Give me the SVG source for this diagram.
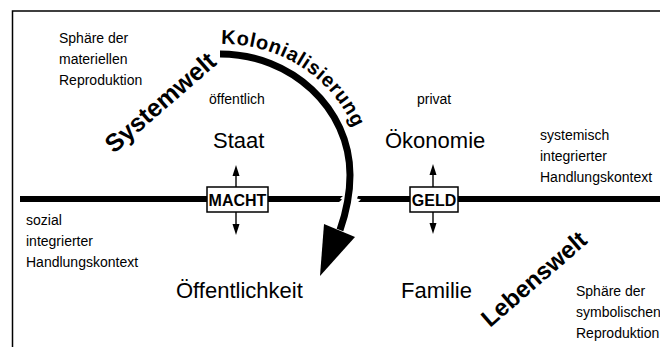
<svg xmlns="http://www.w3.org/2000/svg" width="660" height="347" viewBox="0 0 660 347">
<style>
.lbl{font-family:"Liberation Sans",Arial,sans-serif;font-size:14px;fill:#000}
.big{font-family:"Liberation Sans",Arial,sans-serif;font-size:22px;fill:#000}
.bold{font-family:"Liberation Sans",Arial,sans-serif;font-weight:bold;fill:#000}
.box{fill:#fff;stroke:#000;stroke-width:1.5}
.ln{stroke:#000;stroke-width:1.4;fill:none}
</style>
<defs>
<path id="kpath" d="M221,44 C296,43 363,101 363,175"/>
</defs>
<rect width="660" height="347" fill="#fff"/>
<path d="M12.5,347 V11 H660" fill="none" stroke="#000" stroke-width="1.5"/>

<g id="connectors">
<path d="M20,196 H343 L340,198.5 L342,199.5 L339,202 H20 Z" fill="#000"/>
<path d="M358,196 H660 V202 H358 L361,199.5 L357,198.5 Z" fill="#000"/>
<line class="ln" x1="236" y1="187" x2="236" y2="174"/>
<polygon points="236,165 232.5,176 239.5,176"/>
<line class="ln" x1="236" y1="212" x2="236" y2="225"/>
<polygon points="236,235 232.5,224 239.5,224"/>
<line class="ln" x1="433" y1="187" x2="433" y2="174"/>
<polygon points="433,164 429.5,175 436.5,175"/>
<line class="ln" x1="433" y1="212" x2="433" y2="224"/>
<polygon points="433,234 429.5,223 436.5,223"/>
</g>

<g id="kolonialisierung">
<path d="M220,54 C291.5,54 350,108.5 350,175 C350,192 347,210 340,230" fill="none" stroke="#000" stroke-width="7"/>
<polygon points="324,224 355,237 320,276"/>
<text class="bold" font-size="20" letter-spacing="0.6"><textPath href="#kpath">Kolonialisierung</textPath></text>
</g>

<g id="macht">
<rect class="box" x="207" y="187" width="61" height="25"/>
<text class="bold" font-size="16" x="237.5" y="205.5" text-anchor="middle">MACHT</text>
</g>
<g id="geld">
<rect class="box" x="410" y="187" width="48" height="25"/>
<text class="bold" font-size="16" x="434" y="205.5" text-anchor="middle">GELD</text>
</g>

<g id="staat"><text class="big" x="213" y="148">Staat</text></g>
<g id="oekonomie"><text class="big" x="385" y="148">Ökonomie</text></g>
<g id="oeffentlichkeit"><text class="big" x="176" y="298">Öffentlichkeit</text></g>
<g id="familie"><text class="big" x="401" y="298">Familie</text></g>

<g id="labels">
<text class="lbl" x="59" y="43">Sphäre der</text>
<text class="lbl" x="59" y="64">materiellen</text>
<text class="lbl" x="59" y="85">Reproduktion</text>
<text class="lbl" x="209" y="104">öffentlich</text>
<text class="lbl" x="417" y="104">privat</text>
<text class="lbl" x="540" y="140">systemisch</text>
<text class="lbl" x="540" y="161">integrierter</text>
<text class="lbl" x="540" y="182">Handlungskontext</text>
<text class="lbl" x="26" y="225">sozial</text>
<text class="lbl" x="26" y="246">integrierter</text>
<text class="lbl" x="26" y="267">Handlungskontext</text>
<text class="lbl" x="576" y="296">Sphäre der</text>
<text class="lbl" x="576" y="317">symbolischen</text>
<text class="lbl" x="576" y="338">Reproduktion</text>
</g>

<g id="systemwelt"><text class="bold" font-size="25" transform="translate(114,154) rotate(-41)">Systemwelt</text></g>
<g id="lebenswelt"><text class="bold" font-size="24" transform="translate(490,328) rotate(-41)">Lebenswelt</text></g>
</svg>
